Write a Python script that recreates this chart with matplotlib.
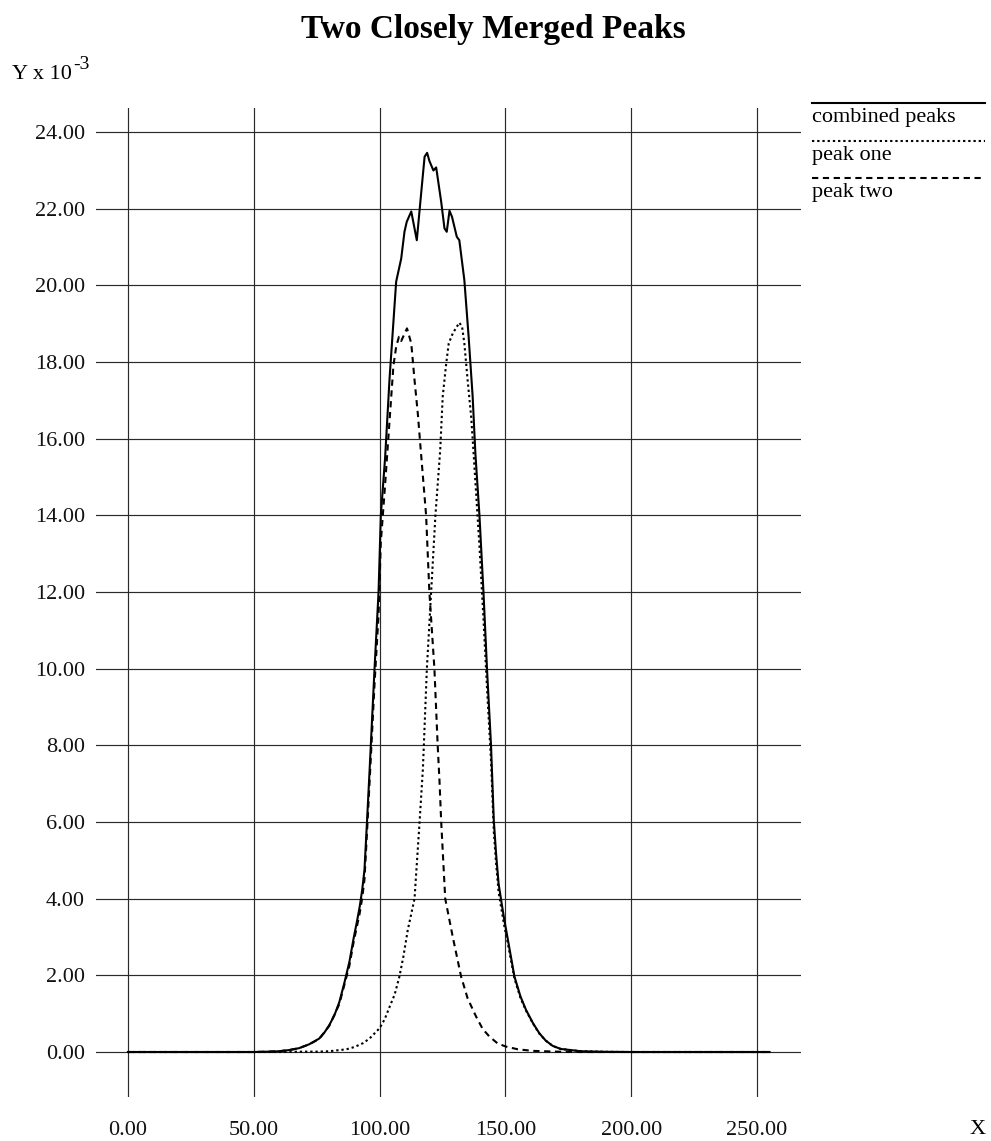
"""
Two closely merged peaks: combined signal plus the two individual peaks.
Values read off the reference chart (y in units of 1e-3).
"""

import matplotlib
matplotlib.use("Agg")
import matplotlib.pyplot as plt
from matplotlib.lines import Line2D
import numpy as np

# combined peaks (solid)
x_combined = [0, 50, 56, 60, 64, 68, 72, 76, 78, 80, 82, 84, 86, 88, 89.7, 91,
              92.1, 93.1, 94.0, 95.0, 96.0, 98.0, 99.6, 100.5, 102.2, 104.0,
              106.6, 107.3, 108.6, 109.9, 110.8, 112.6, 114.8, 116.1, 117.9,
              118.9, 119.8, 121.4, 122.5, 124.5, 125.8, 126.7, 127.8, 128.8,
              130.7, 131.7, 133.7, 135.4, 137.0, 138.1, 139.7, 141.3, 142.7,
              144.3, 145.4, 146.3, 147.3, 148.3, 149.6, 150.9, 153.6, 156,
              158.2, 161, 163.5, 166, 168.8, 172, 176, 180, 190, 200, 255]
y_combined = [0, 0, 0.01, 0.02, 0.05, 0.10, 0.2, 0.35, 0.5, 0.7, 0.95, 1.3, 1.8,
              2.35, 2.97, 3.4, 3.79, 4.23, 4.75, 6.0, 7.3, 10.0, 12.0, 14.0,
              15.5, 17.6, 20.1, 20.31, 20.7, 21.4, 21.66, 21.93, 21.18, 22.1,
              23.36, 23.46, 23.25, 23.0, 23.08, 22.18, 21.49, 21.40, 21.95,
              21.79, 21.27, 21.18, 20.14, 18.66, 17.1, 15.6, 14.0, 12.0, 10.0,
              8.0, 6.05, 5.18, 4.4, 3.97, 3.44, 2.97, 1.97, 1.45, 1.1, 0.75,
              0.49, 0.3, 0.16, 0.08, 0.05, 0.02, 0.005, 0, 0]

# peak one (dotted, right-hand peak)
x_peak_one = [0, 60, 70, 76, 80, 86.8, 90, 93.4, 96, 100, 102, 104, 106, 107.9,
              109.5, 111.2, 113.9, 115.9, 117.2, 117.6, 118.8, 120.5, 122.2,
              124.1, 125.1, 126.5, 127.5, 129.1, 131.7, 132.8, 133.7, 135.0,
              136.4, 137.3, 139.7, 141.3, 142.7, 144.3, 145.4, 146.3, 147.3,
              148.3, 149.6, 150.9, 153.6, 156, 158.2, 161, 163.5, 166, 168.8,
              172, 176, 180, 190, 200, 255]
y_peak_one = [0, 0, 0.01, 0.01, 0.02, 0.07, 0.13, 0.23, 0.35, 0.62, 0.85, 1.18,
              1.5, 1.97, 2.5, 3.18, 4.0, 6.0, 7.36, 8.0, 10.0, 12.0, 14.0, 15.7,
              17.1, 17.97, 18.49, 18.75, 19.03, 18.92, 18.49, 17.53, 16.58,
              15.7, 13.2, 11.3, 9.5, 7.6, 5.75, 4.93, 4.18, 3.78, 3.28, 2.86,
              1.92, 1.41, 1.08, 0.74, 0.48, 0.3, 0.16, 0.08, 0.05, 0.02, 0.005,
              0, 0]

# peak two (dashed, left-hand peak)
x_peak_two = [0, 50, 56, 60, 64, 68, 72, 76, 80, 84, 88, 89.7, 92.1, 93.1, 94,
              95, 96, 98, 99.6, 100.5, 102.2, 104, 105.5, 106.6, 107.7, 108.6,
              110.9, 112.6, 113.9, 115.2, 116.5, 118.5, 119.8, 121.8, 123.1,
              123.8, 124.5, 126.1, 129.1, 132.4, 135, 138.4, 141, 143.7, 147,
              150.3, 155, 160.8, 170, 180, 255]
y_peak_two = [0, 0, 0.01, 0.02, 0.05, 0.10, 0.2, 0.34, 0.68, 1.25, 2.25, 2.87,
              3.62, 4.02, 4.5, 5.72, 7.0, 9.6, 11.4, 13.3, 14.8, 16.5, 17.9,
              18.4, 18.66, 18.55, 18.88, 18.49, 17.53, 16.66, 15.6, 14.0, 12.0,
              10.0, 8.0, 7.1, 6.0, 4.0, 3.0, 1.97, 1.4, 0.92, 0.6, 0.4, 0.22,
              0.14, 0.07, 0.03, 0.01, 0, 0]

series_labels = ["combined peaks", "peak one", "peak two"]
x_ticks = [0, 50, 100, 150, 200, 250]
y_ticks = [0, 2, 4, 6, 8, 10, 12, 14, 16, 18, 20, 22, 24]

FONT = "Liberation Serif"
plt.rcParams["font.family"] = [FONT, "DejaVu Serif"]

W, H = 991, 1141
fig = plt.figure(figsize=(W / 100, H / 100), dpi=100)

# axes box in pixels: left 96, right 801, top 108, bottom 1097
ax = fig.add_axes([96 / W, 1 - 1097 / H, (801 - 96) / W, (1097 - 108) / H])
ax.set_xlim(-12.7, 267.5)
ax.set_ylim(-1.174, 24.63)

for s in ax.spines.values():
    s.set_visible(False)
ax.set_xticks(x_ticks)
ax.set_yticks(y_ticks)
ax.set_xticklabels([f"{v:.2f}" for v in x_ticks])
ax.set_yticklabels([f"{v:.2f}" for v in y_ticks])
ax.tick_params(axis="both", length=0, labelsize=16, colors="#111111")
ax.tick_params(axis="x", pad=17)
ax.tick_params(axis="y", pad=8)
ax.grid(True, color="#2a2a2a", linewidth=0.85)
ax.set_axisbelow(True)

styles = [
    dict(linestyle="-"),
    dict(linestyle=(0, (1.1, 1.4))),
    dict(linestyle=(0, (3, 2.2))),
]
data = [(x_combined, y_combined), (x_peak_one, y_peak_one), (x_peak_two, y_peak_two)]
for (xs, ys), st in zip(data, styles):
    ax.plot(xs, ys, color="black", linewidth=1.5, **st)

# title and axis captions
fig.text(493 / W, 1 - 38 / H, "Two Closely Merged Peaks", ha="center",
         va="baseline", fontsize=24, fontweight="bold")
fig.text(12 / W, 1 - 79 / H, "Y x 10", ha="left", va="baseline", fontsize=16)
fig.text(73 / W, 1 - 69 / H, "-3", ha="left", va="baseline", fontsize=14)
fig.text(978 / W, 1 - 1129 / H, "X", ha="center", va="center", fontsize=16)

# legend: sample line above each label
leg_x0, leg_x1 = 812 / W, 985 / W
line_rows = [103, 141, 178]
for lbl, st, py in zip(series_labels, styles, line_rows):
    fig.add_artist(Line2D([leg_x0, leg_x1], [1 - py / H, 1 - py / H],
                          color="black", linewidth=1.5, **st))
    fig.text(leg_x0, 1 - (py + 5) / H, lbl, ha="left", va="top", fontsize=16)

fig.savefig("out.png", dpi=100)
